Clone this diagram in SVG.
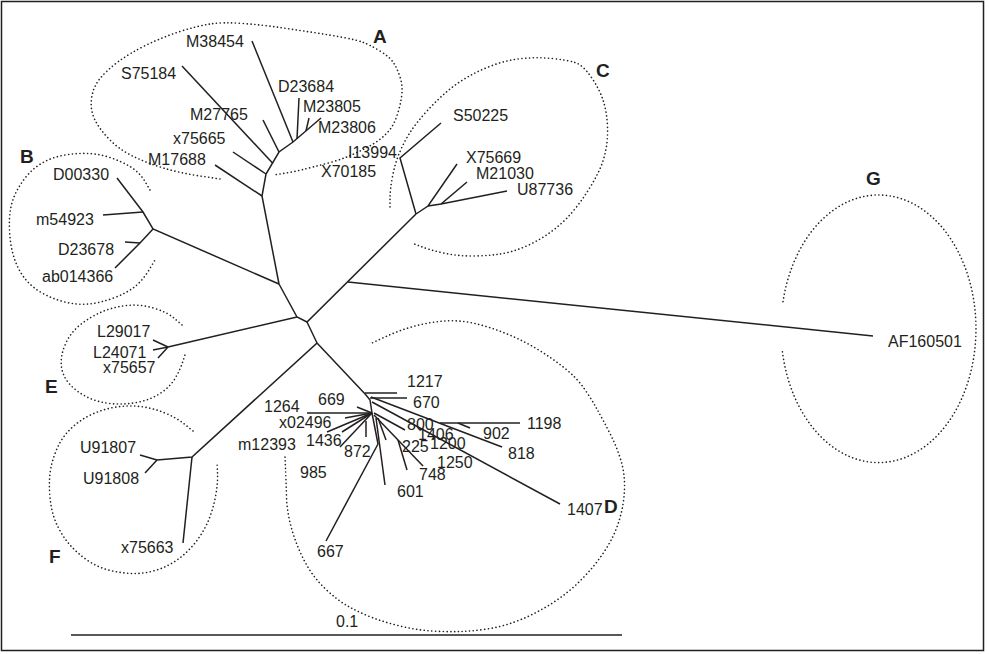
<svg xmlns="http://www.w3.org/2000/svg" width="989" height="654" viewBox="0 0 989 654">
<style>
.t{font-family:"Liberation Sans",Arial,sans-serif;font-size:16px;fill:#231f20}
.L{font-family:"Liberation Sans",Arial,sans-serif;font-size:19px;font-weight:bold;fill:#231f20}
.e{fill:none;stroke:#231f20;stroke-width:1.6;stroke-dasharray:0.1 3.7;stroke-linecap:round}
#connectors line,#connectors polyline{stroke:#231f20;stroke-width:1.5;fill:none}
</style>
<rect x="1.5" y="1.5" width="982" height="649" fill="#fff" stroke="#231f20" stroke-width="1.5"/>

<g id="clusters">
<g id="cluster-A">
<path class="e" d="M220,179 L200,176 Q180,173 163.5,168 Q147,163 133.5,156.5 Q120,150 110,140 Q100,130 95,120 Q90,110 91.5,98.5 Q93,87 100,78.5 Q107,70 118.5,61.5 Q130,53 146.5,45 Q163,37 180,31.5 Q197,26 210,24 Q223,22 243,23.5 Q263,25 280,27.5 Q297,30 313.5,32.5 Q330,35 343.5,37.5 Q357,40 363.5,42.5 Q370,45 380,51 Q390,57 394,63.5 Q398,70 400.5,78.5 Q403,87 401.5,97 Q400,107 396.5,117 Q393,127 386.5,133.5 Q380,140 371.5,145 Q363,150 351.5,155 Q340,160 326.5,163.5 Q313,167 303,169.5 Q293,172 283,173.5 L273,175"/>
<text class="L" x="373" y="43">A</text>
</g>
<g id="cluster-B">
<path class="e" d="M150,190 L145,181.5 Q140,173 131.5,167.5 Q123,162 111.5,158 Q100,154 88.5,153.5 Q77,153 65,155 Q53,157 43,162.5 Q33,168 25.5,177.5 Q18,187 14,197 Q10,207 9.5,218.5 Q9,230 10.5,241.5 Q12,253 16,263 Q20,273 26.5,280.5 Q33,288 43,293.5 Q53,299 65,302 Q77,305 88.5,304 Q100,303 113.5,298 Q127,293 135,286.5 Q143,280 149,270 L155,260"/>
<text class="L" x="20" y="163">B</text>
</g>
<g id="cluster-C">
<path class="e" d="M390,207 L390,198.5 Q390,190 392.5,176.5 Q395,163 400,151.5 Q405,140 411,131 Q417,122 427,111 Q437,100 447,91.5 Q457,83 468.5,76.5 Q480,70 493.5,65 Q507,60 522,58.5 Q537,57 552,58.5 Q567,60 575,62.5 Q583,65 591.5,77.5 Q600,90 603.5,101.5 Q607,113 607.5,126.5 Q608,140 605.5,151.5 Q603,163 598,173 Q593,183 586.5,193 Q580,203 571.5,213 Q563,223 551.5,231.5 Q540,240 526.5,246 Q513,252 500,254 Q487,256 472,256 Q457,256 443.5,253 Q430,250 421,246.5 L412,243"/>
<text class="L" x="596" y="77">C</text>
</g>
<g id="cluster-D">
<path class="e" d="M285,457 L285.5,468.5 Q286,480 286.5,496.5 Q287,513 292,530 Q297,547 305,562 Q313,577 325,588.5 Q337,600 348.5,606.5 Q360,613 373.5,618 Q387,623 402,626.5 Q417,630 432,631 Q447,632 461,631.5 Q475,631 490,628.5 Q505,626 521,619.5 Q537,613 552.5,603 Q568,593 581,580 Q594,567 604,552 Q614,537 619,521 Q624,505 624.5,489 Q625,473 620.5,459 Q616,445 609.5,432.5 Q603,420 597.5,410 Q592,400 584.5,389 Q577,378 564.5,368 Q552,358 537,349 Q522,340 506,333.5 Q490,327 475,323.5 Q460,320 445,321 Q430,322 415,326 Q400,330 386,336.5 L372,343"/>
<text class="L" x="604" y="513">D</text>
</g>
<g id="cluster-E">
<path class="e" d="M182,325 L174.5,318.5 Q167,312 153.5,308 Q140,304 126.5,305.5 Q113,307 101.5,312 Q90,317 80,325 Q70,333 65,345 Q60,357 61.5,367 Q63,377 70,384.5 Q77,392 87,397 Q97,402 110,403.5 Q123,405 136.5,402.5 Q150,400 160,393.5 Q170,387 175,378.5 Q180,370 182.5,362.5 L185,355"/>
<text class="L" x="45" y="393">E</text>
</g>
<g id="cluster-F">
<path class="e" d="M193,431 L185,424.5 Q177,418 165,413 Q153,408 140,406.5 Q127,405 113.5,407.5 Q100,410 88.5,416 Q77,422 68.5,431 Q60,440 55,453.5 Q50,467 49.5,480 Q49,493 51,505 Q53,517 58,527 Q63,537 70,545 Q77,553 87,560 Q97,567 108.5,570 Q120,573 131.5,573.5 Q143,574 155,570.5 Q167,567 177,560 Q187,553 195,543 Q203,533 208,521.5 Q213,510 215.5,496.5 Q218,483 217.5,472.5 L217,462"/>
<text class="L" x="49" y="563">F</text>
</g>
<g id="cluster-G">
<path class="e" d="M783,301.7 A97.5,133.8 0 1 1 782.3,350.7"/>
<text class="L" x="866" y="185">G</text>
</g>
</g>

<g id="connectors">
<polyline points="279,284 262,196 266,174 279,152 293,142 321,118"/>
<line x1="215" y1="165" x2="262" y2="196"/>
<line x1="233" y1="152" x2="266" y2="174"/>
<line x1="182" y1="66" x2="272.5" y2="163"/>
<line x1="263" y1="120" x2="279" y2="152"/>
<line x1="252" y1="41" x2="293" y2="142"/>
<line x1="299" y1="98" x2="297" y2="139"/>
<line x1="309" y1="118" x2="306" y2="131"/>
<polyline points="279,284 153,229 143,212 117,178"/>
<line x1="103" y1="215" x2="143" y2="212"/>
<polyline points="153,229 140,243 115,268"/>
<line x1="125" y1="242" x2="140" y2="243"/>
<polyline points="279,284 297,317 307,322 416,214"/>
<line x1="168" y1="347" x2="297" y2="317"/>
<line x1="153" y1="340" x2="168" y2="347"/>
<line x1="153" y1="350" x2="168" y2="347"/>
<line x1="158" y1="358" x2="168" y2="347"/>
<line x1="348" y1="282" x2="873" y2="336"/>
<polyline points="416,214 400,158 441,123"/>
<polyline points="416,214 428,206 457,164"/>
<polyline points="428,206 441,204 467,182"/>
<line x1="441" y1="204" x2="507" y2="191"/>
<polyline points="307,322 317,343 192,457 157,460"/>
<line x1="140" y1="455" x2="157" y2="460"/>
<line x1="145" y1="473" x2="157" y2="460"/>
<line x1="192" y1="457" x2="183" y2="543"/>
<polyline points="317,343 366,395 370,400 372,413"/>
<line x1="365" y1="393" x2="397" y2="393"/>
<line x1="370" y1="398" x2="407" y2="398"/>
<line x1="371" y1="397" x2="502" y2="447"/>
<line x1="440" y1="423" x2="520" y2="423"/>
<line x1="458" y1="423" x2="470" y2="428"/>
<line x1="372" y1="402" x2="560" y2="504"/>
<line x1="307" y1="413" x2="372" y2="413"/>
<line x1="357" y1="407" x2="372" y2="413"/>
<line x1="345" y1="418" x2="372" y2="413"/>
<line x1="327" y1="432" x2="372" y2="413"/>
<line x1="342" y1="432" x2="372" y2="413"/>
<line x1="340" y1="447" x2="372" y2="413"/>
<line x1="366" y1="421" x2="366" y2="437"/>
<polyline points="372,413 378,444 326,541"/>
<line x1="376" y1="418" x2="385" y2="485"/>
<line x1="378" y1="418" x2="386" y2="440"/>
<line x1="374" y1="413" x2="405" y2="430"/>
<line x1="374" y1="415" x2="423" y2="466"/>
<line x1="398" y1="440" x2="407" y2="470"/>
<line x1="71" y1="635" x2="622" y2="635"/>
</g>

<g id="leaves">
<g id="n-M38454"><text class="t" x="186" y="47">M38454</text></g>
<g id="n-S75184"><text class="t" x="121" y="79">S75184</text></g>
<g id="n-D23684"><text class="t" x="278" y="92">D23684</text></g>
<g id="n-M23805"><text class="t" x="303" y="112">M23805</text></g>
<g id="n-M23806"><text class="t" x="318" y="133">M23806</text></g>
<g id="n-M27765"><text class="t" x="190" y="120">M27765</text></g>
<g id="n-x75665"><text class="t" x="173" y="144">x75665</text></g>
<g id="n-M17688"><text class="t" x="148" y="165">M17688</text></g>
<g id="n-I13994"><text class="t" x="348" y="158">I13994</text></g>
<g id="n-X70185"><text class="t" x="321" y="177">X70185</text></g>
<g id="n-D00330"><text class="t" x="53" y="180">D00330</text></g>
<g id="n-m54923"><text class="t" x="36" y="225">m54923</text></g>
<g id="n-D23678"><text class="t" x="58" y="255">D23678</text></g>
<g id="n-ab014366"><text class="t" x="42" y="282">ab014366</text></g>
<g id="n-S50225"><text class="t" x="453" y="121">S50225</text></g>
<g id="n-X75669"><text class="t" x="466" y="163">X75669</text></g>
<g id="n-M21030"><text class="t" x="476" y="179">M21030</text></g>
<g id="n-U87736"><text class="t" x="517" y="195">U87736</text></g>
<g id="n-L29017"><text class="t" x="97" y="337">L29017</text></g>
<g id="n-L24071"><text class="t" x="93" y="358">L24071</text></g>
<g id="n-x75657"><text class="t" x="103" y="373">x75657</text></g>
<g id="n-U91807"><text class="t" x="80" y="453">U91807</text></g>
<g id="n-U91808"><text class="t" x="83" y="484">U91808</text></g>
<g id="n-x75663"><text class="t" x="121" y="553">x75663</text></g>
<g id="n-AF160501"><text class="t" x="888" y="347">AF160501</text></g>
<g id="n-1217"><text class="t" x="407" y="387">1217</text></g>
<g id="n-670"><text class="t" x="413" y="408">670</text></g>
<g id="n-669"><text class="t" x="318" y="405">669</text></g>
<g id="n-1264"><text class="t" x="264" y="412">1264</text></g>
<g id="n-x02496"><text class="t" x="279" y="428">x02496</text></g>
<g id="n-m12393"><text class="t" x="238" y="450">m12393</text></g>
<g id="n-1436"><text class="t" x="306" y="446">1436</text></g>
<g id="n-872"><text class="t" x="344" y="457">872</text></g>
<g id="n-985"><text class="t" x="300" y="478">985</text></g>
<g id="n-601"><text class="t" x="397" y="497">601</text></g>
<g id="n-748"><text class="t" x="419" y="480">748</text></g>
<g id="n-225"><text class="t" x="402" y="452">225</text></g>
<g id="n-800"><text class="t" x="407" y="430">800</text></g>
<g id="n-1406"><text class="t" x="418" y="440">1406</text></g>
<g id="n-1200"><text class="t" x="430" y="449">1200</text></g>
<g id="n-1250"><text class="t" x="437" y="468">1250</text></g>
<g id="n-902"><text class="t" x="483" y="439">902</text></g>
<g id="n-1198"><text class="t" x="527" y="429">1198</text></g>
<g id="n-818"><text class="t" x="508" y="459">818</text></g>
<g id="n-1407"><text class="t" x="567" y="515">1407</text></g>
<g id="n-667"><text class="t" x="317" y="557">667</text></g>
<g id="scale"><text class="t" x="336" y="627">0.1</text></g>
</g>
</svg>
